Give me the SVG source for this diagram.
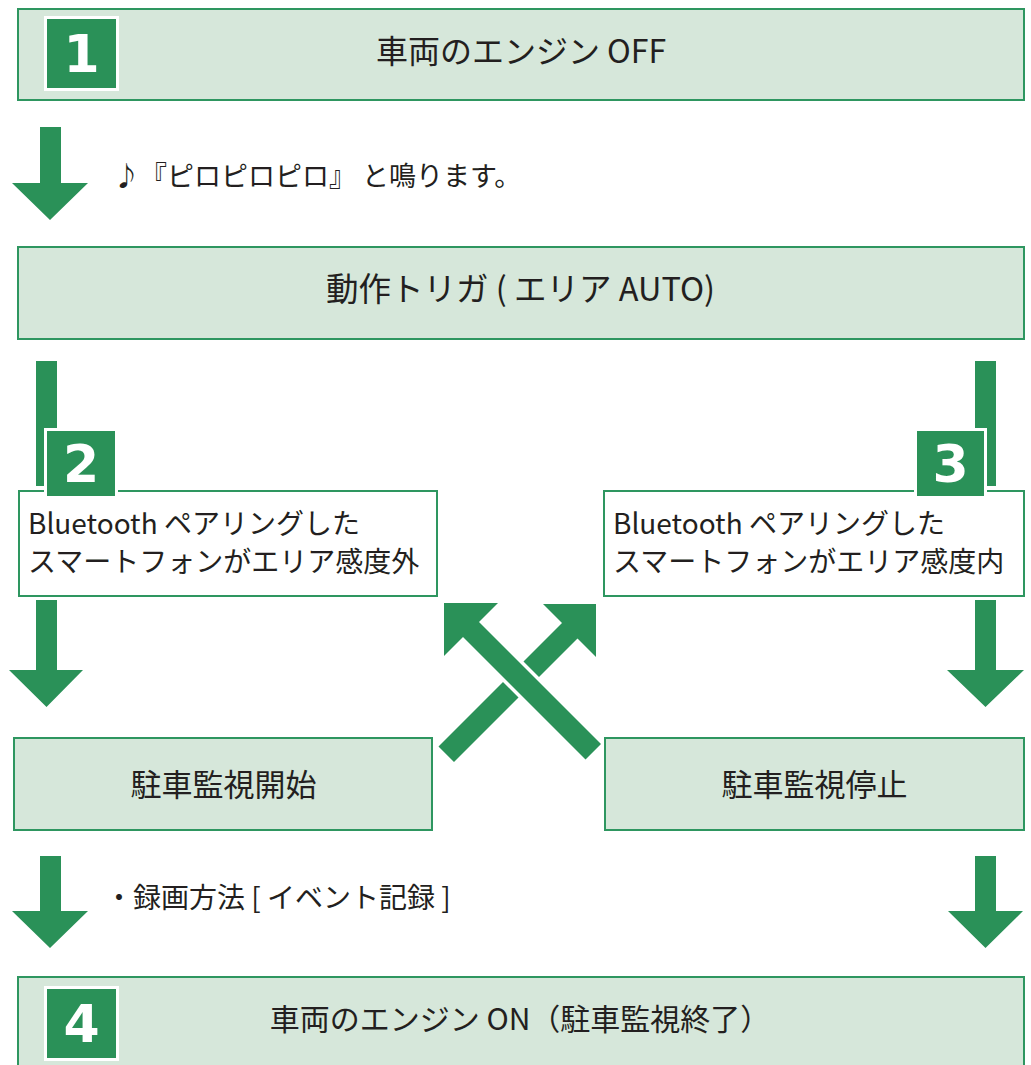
<svg xmlns="http://www.w3.org/2000/svg" width="1031" height="1065" viewBox="0 0 1031 1065">
  <style>
    .box { fill: #d6e7da; stroke: #2e9660; stroke-width: 2; }
    .wbox { fill: #ffffff; stroke: #2e9660; stroke-width: 2; }
    .badge { fill: #2a9158; stroke: #ffffff; stroke-width: 3; }
    .num { font-family: "DejaVu Sans", sans-serif; font-weight: bold; font-size: 52px; fill: #ffffff; text-anchor: middle; }
    .t { font-family: "Noto Sans CJK JP", "Noto Sans", sans-serif; fill: #231f20; }
    .big { font-size: 32px; }
    .mid { font-size: 31px; }
    .sm { font-size: 28px; }
    .c { text-anchor: middle; }
    .arrow { fill: #2a9158; }
    .gap { fill: #ffffff; stroke: #ffffff; stroke-width: 7; stroke-linejoin: miter; }
  </style>

  <g id="connectors">
    <!-- 1 -> trigger -->
    <polygon class="arrow" points="40,127 61,127 61,183 88,183 50,220 12,183 40,183"/>
    <!-- trigger -> 2 (bar) -->
    <rect class="arrow" x="36" y="361" width="21" height="125"/>
    <!-- trigger -> 3 (bar) -->
    <rect class="arrow" x="975" y="361" width="21" height="125"/>
    <!-- 2 -> start -->
    <polygon class="arrow" points="36,600 57,600 57,670 83,670 46.5,707 9,670 36,670"/>
    <!-- 3 -> stop -->
    <polygon class="arrow" points="975,600 996,600 996,670 1024,670 985.5,707 947,670 975,670"/>
    <!-- start -> 3 (up-right) -->
    <polygon class="arrow" points="596,604 596,657 577.5,638.5 454,762 438.5,746.5 562,623 543,604"/>
    <!-- stop -> 2 (up-left), drawn over with white gap -->
    <polygon class="gap" points="444,603 498,603 479,622 601,744 585.5,759.5 463,637 444,656"/>
    <polygon class="arrow" points="444,603 498,603 479,622 601,744 585.5,759.5 463,637 444,656"/>
    <!-- start -> 4 -->
    <polygon class="arrow" points="40,856 61,856 61,911 88,911 50,948 12,911 40,911"/>
    <!-- stop -> 4 -->
    <polygon class="arrow" points="975,856 996,856 996,911 1023,911 985.5,948 948,911 975,911"/>
    <text class="t" font-size="27" x="113" y="186">♪『ピロピロピロ』 と鳴ります。</text>
    <text class="t sm" x="105" y="908">・録画方法 [ イベント記録 ]</text>
  </g>

  <g id="node-engine-off">
    <rect class="box" x="18" y="9" width="1006" height="91"/>
    <rect class="badge" x="45.5" y="17.5" width="72" height="72"/>
    <text class="num" x="81.5" y="72">1</text>
    <text class="t big c" x="521" y="63">車両のエンジン OFF</text>
  </g>

  <g id="node-trigger">
    <rect class="box" x="18" y="247" width="1006" height="92"/>
    <text class="t c" font-size="32.5" x="520.5" y="301">動作トリガ ( エリア AUTO)</text>
  </g>

  <g id="node-out">
    <rect class="wbox" x="19" y="491" width="418" height="105"/>
    <rect class="badge" x="45.5" y="429.5" width="71" height="68"/>
    <text class="num" x="81" y="482">2</text>
    <text class="t sm" x="28" y="534">Bluetooth ペアリングした</text>
    <text class="t sm" x="28" y="572">スマートフォンがエリア感度外</text>
  </g>

  <g id="node-in">
    <rect class="wbox" x="604" y="491" width="420" height="105"/>
    <rect class="badge" x="915.5" y="429.5" width="70" height="68"/>
    <text class="num" x="950.5" y="482">3</text>
    <text class="t sm" x="613" y="534">Bluetooth ペアリングした</text>
    <text class="t sm" x="613" y="572">スマートフォンがエリア感度内</text>
  </g>

  <g id="node-start">
    <rect class="box" x="14" y="738" width="418" height="92"/>
    <text class="t mid c" x="223.5" y="796">駐車監視開始</text>
  </g>

  <g id="node-stop">
    <rect class="box" x="605" y="738" width="419" height="92"/>
    <text class="t mid c" x="814.5" y="796">駐車監視停止</text>
  </g>

  <g id="node-engine-on">
    <rect class="box" x="18" y="977" width="1006" height="100"/>
    <rect class="badge" x="45.5" y="987.5" width="72" height="72"/>
    <text class="num" x="81.5" y="1042">4</text>
    <text class="t c" font-size="30" x="520" y="1030">車両のエンジン ON（駐車監視終了）</text>
  </g>
</svg>
